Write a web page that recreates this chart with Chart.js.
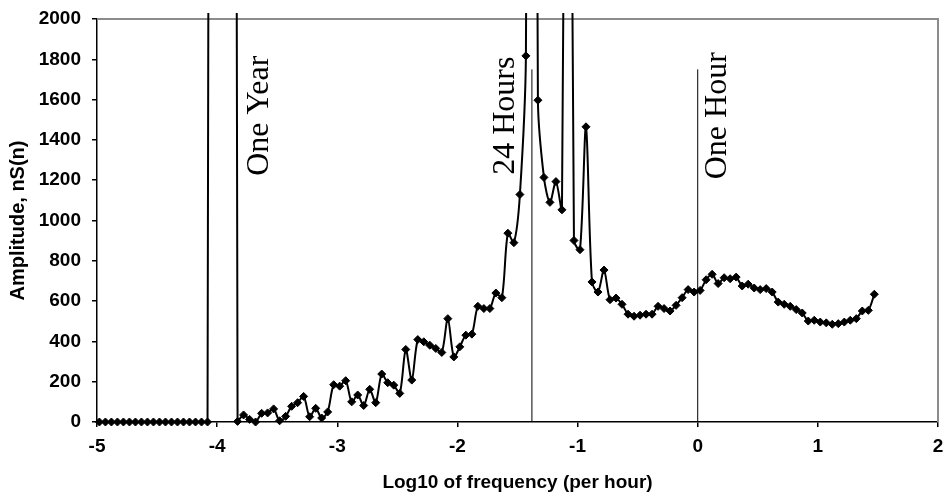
<!DOCTYPE html>
<html>
<head>
<meta charset="utf-8">
<script src="https://cdn.jsdelivr.net/npm/chart.js@4.4.0/dist/chart.umd.min.js"></script>
<style>
    html, body { margin: 0; padding: 0; background: #fff; }
    #wrap { width: 946px; height: 496px; }
</style>
</head>
<body>
<div id="wrap"><canvas id="spectrum" width="946" height="496"></canvas></div>
<script>
// log10 of frequency (per hour)
const logFreq = [
    -4.98, -4.93, -4.88, -4.83, -4.78, -4.73, -4.68, -4.63, -4.58, -4.53,
    -4.48, -4.43, -4.38, -4.33, -4.28, -4.23, -4.18, -4.13, -4.08,
    -4.03, -3.98, -3.93, -3.88,
    -3.83, -3.78, -3.73, -3.68, -3.63, -3.58, -3.53, -3.48, -3.43, -3.38,
    -3.33, -3.28, -3.23, -3.18, -3.13, -3.08, -3.03, -2.98, -2.93, -2.88,
    -2.83, -2.78, -2.73, -2.68, -2.63, -2.58, -2.53, -2.48, -2.43, -2.38,
    -2.33, -2.28, -2.23, -2.18, -2.13, -2.08, -2.03, -1.98, -1.93, -1.88,
    -1.83, -1.78, -1.73, -1.68, -1.63, -1.58, -1.53, -1.48, -1.43, -1.38,
    -1.33, -1.28, -1.23, -1.18, -1.13, -1.08, -1.03, -0.98, -0.93, -0.88,
    -0.83, -0.78, -0.73, -0.68, -0.63, -0.58, -0.53, -0.48, -0.43, -0.38,
    -0.33, -0.28, -0.23, -0.18, -0.13, -0.08, -0.03, 0.02, 0.07, 0.12,
    0.17, 0.22, 0.27, 0.32, 0.37, 0.42, 0.47, 0.52, 0.57, 0.62,
    0.67, 0.72, 0.77, 0.82, 0.87, 0.92, 0.97, 1.02, 1.07, 1.12,
    1.17, 1.22, 1.27, 1.32, 1.37, 1.42, 1.47
];

// amplitude nS(n); the yearly, daily and 12h peaks run far off the top
const amplitude = [
    0, 0, 0, 0, 0, 0, 0, 0, 0, 0,
    0, 0, 0, 0, 0, 0, 0, 0, 0,
    20000, 60000, 80000, 20000,
    3, 35, 13, 0, 43, 45, 65, 6, 28, 78,
    96, 127, 26, 68, 20, 50, 185, 178, 205, 100,
    134, 82, 162, 96, 238, 195, 183, 142, 360, 208,
    409, 398, 381, 365, 345, 513, 323, 373, 431, 436,
    574, 563, 563, 640, 617, 937, 890, 1129, 1817, 9000,
    1597, 1214, 1090, 1193, 1053, 6000, 901, 855, 1465, 695,
    645, 754, 607, 615, 584, 535, 525, 530, 535, 535,
    574, 563, 551, 579, 617, 657, 645, 653, 706, 733,
    687, 716, 711, 719, 675, 684, 665, 657, 662, 645,
    595, 584, 574, 558, 541, 501, 505, 496, 492, 485,
    488, 496, 505, 513, 551, 554, 634
];

// marker lines for 24 hours and one hour
const markerX = [-1.38, 0];
const markerTop = 1750;

// rotated notes (x = baseline position, y = centre)
const noteText = ["One Year", "24 Hours", "One Hour"];
const noteX = [-3.58, -1.525, 0.237];
const noteY = 1520;

const xTicks = [-5, -4, -3, -2, -1, 0, 1, 2];
const yTicks = [0, 200, 400, 600, 800, 1000, 1200, 1400, 1600, 1800, 2000];

const axisFont = { family: "'Liberation Sans', Arial, sans-serif", size: 19, weight: "bold" };

const frame = {
    id: "frame",
    beforeDatasetsDraw(chart) {
        const a = chart.chartArea;
        const ctx = chart.ctx;
        ctx.save();
        ctx.strokeStyle = "#8c8c8c";
        ctx.lineWidth = 2;
        ctx.beginPath();
        ctx.moveTo(a.left, a.top);
        ctx.lineTo(a.right, a.top);
        ctx.lineTo(a.right, a.bottom);
        ctx.stroke();
        ctx.restore();
    }
};

const notes = {
    id: "notes",
    afterDatasetsDraw(chart) {
        const ctx = chart.ctx;
        const xs = chart.scales.x, ys = chart.scales.y;
        ctx.save();
        ctx.fillStyle = "#000";
        ctx.font = "32px 'Liberation Serif', 'Times New Roman', serif";
        ctx.textAlign = "center";
        ctx.textBaseline = "alphabetic";
        noteText.forEach((t, i) => {
            ctx.save();
            ctx.translate(xs.getPixelForValue(noteX[i]), ys.getPixelForValue(noteY));
            ctx.rotate(-Math.PI / 2);
            ctx.fillText(t, 0, 0);
            ctx.restore();
        });
        ctx.restore();
    }
};

const markerSets = markerX.map(x => ({
    data: [{ x: x, y: 0 }, { x: x, y: markerTop }],
    borderColor: "#000",
    borderWidth: 1,
    pointRadius: 0,
    tension: 0
}));

new Chart(document.getElementById("spectrum"), {
    type: "line",
    data: {
        datasets: [
            ...markerSets,
            {
                data: logFreq.map((x, i) => ({ x: x, y: amplitude[i] })),
                borderColor: "#000",
                backgroundColor: "#000",
                borderWidth: 2,
                tension: 0.3,
                pointStyle: "rectRot",
                pointRadius: 4,
                pointBorderWidth: 1,
                clip: { left: 10, right: 10, top: 6, bottom: 10 }
            }
        ]
    },
    options: {
        responsive: false,
        animation: false,
        devicePixelRatio: 1,
        layout: { padding: { top: 19, right: 8, bottom: 0, left: 0 } },
        plugins: {
            legend: { display: false },
            tooltip: { enabled: false }
        },
        scales: {
            x: {
                type: "linear",
                min: -5,
                max: 2,
                afterBuildTicks: s => { s.ticks = xTicks.map(v => ({ value: v })); },
                afterFit: s => { s.height = 74; s.paddingLeft = 0; s.paddingRight = 0; },
                ticks: { color: "#000", font: axisFont, padding: 8, maxRotation: 0, callback: v => String(v) },
                grid: { drawOnChartArea: false, color: "#000", tickLength: 5, lineWidth: 1.5 },
                border: { color: "#000", width: 1.5 },
                title: {
                    display: true,
                    text: "Log10 of frequency (per hour)",
                    color: "#000",
                    font: axisFont,
                    padding: { top: 0, bottom: 2 }
                }
            },
            y: {
                min: 0,
                max: 2000,
                afterBuildTicks: s => { s.ticks = yTicks.map(v => ({ value: v })); },
                afterFit: s => { s.width = 97; s.paddingTop = 0; s.paddingBottom = 0; },
                ticks: { color: "#000", font: axisFont, padding: 11, callback: v => String(v) },
                grid: { drawOnChartArea: false, color: "#000", tickLength: 5, lineWidth: 1.5 },
                border: { color: "#000", width: 1.5 },
                title: {
                    display: true,
                    text: "Amplitude, nS(n)",
                    color: "#000",
                    font: { family: "'Liberation Sans', Arial, sans-serif", size: 20, weight: "bold" },
                    padding: { top: 6, bottom: 0 }
                }
            }
        }
    },
    plugins: [frame, notes]
});
</script>
</body>
</html>
